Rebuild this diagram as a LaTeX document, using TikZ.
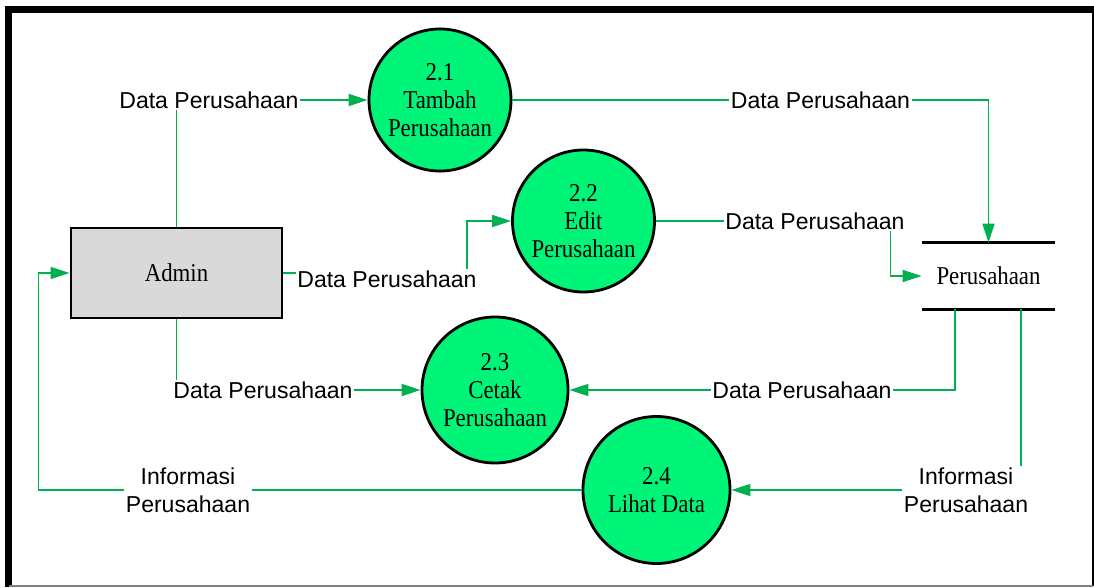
\documentclass[tikz,border=0pt]{standalone}
\usepackage{fontspec}
\setmainfont{Liberation Serif}[FakeStretch=0.89]
\newfontfamily\labelfont{Liberation Sans}
\usetikzlibrary{arrows.meta}
\definecolor{flowgreen}{RGB}{0,176,80}
\definecolor{procfill}{RGB}{0,245,120}
\definecolor{entgray}{RGB}{217,217,217}
\tikzset{
  process/.style={circle,draw,line width=1.6pt,fill=procfill,minimum size=2.84cm,inner sep=0pt,align=center,font=\fontsize{14.6}{15.9}\selectfont},
  entity/.style={rectangle,draw,line width=1.6pt,fill=entgray,minimum width=4.22cm,minimum height=1.8cm,font=\fontsize{14.6}{15.9}\selectfont},
  datastore/.style={minimum width=2.66cm,minimum height=1.32cm,inner sep=0pt,font=\fontsize{14.6}{15.9}\selectfont},
  flow/.style={draw=flowgreen,line width=0.85pt,-{Triangle[length=0.38cm,width=0.24cm]}},
  flowlabel/.style={fill=white,inner sep=1pt,align=center,font=\labelfont\fontsize{13.1}{15.9}\selectfont}
}
\begin{document}
\begin{tikzpicture}
       \useasboundingbox (0,0) rectangle (21.88,11.74);
       \draw[line width=4pt] (0.17,0) -- (0.17,11.55) -- (21.88,11.55);
       \draw[line width=1pt] (21.86,11.55) -- (21.86,0.02);
       \draw[gray,line width=0.8pt] (0.17,0.02) -- (21.86,0.02);

       \node[entity] (admin) at (3.53,6.28) {Admin};
       \node[process] (p21) at (8.8,9.74) {2.1\\Tambah\\Perusahaan};
       \node[process] (p22) at (11.67,7.32) {2.2\\Edit\\Perusahaan};
       \node[process,minimum size=2.92cm] (p23) at (9.9,3.94) {2.3\\Cetak\\Perusahaan};
       \node[process,minimum size=2.94cm] (p24) at (13.13,1.94) {2.4\\Lihat Data};

       \node[datastore] (store) at (19.77,6.22) {Perusahaan};
       \draw[line width=1.6pt] (store.north west) -- (store.north east);
       \draw[line width=1.6pt] (store.south west) -- (store.south east);

       \draw[flow] (admin.north) |- (p21.west);
       \draw[flow] (p21.east) -| (store.north);
       \draw[flow] (admin.east) -| ([xshift=-0.88cm]p22.west) -- (p22.west);
       \draw[flow] (p22.east) -| ([xshift=-0.62cm]store.west) -- (store.west);
       \draw[flow] ([xshift=-0.67cm]store.south) |- (p23.east);
       \draw[flow] (admin.south) |- (p23.west);
       \draw[flow] ([xshift=0.65cm]store.south) |- (p24.east);
       \draw[flow] (p24.west) -| ([xshift=-0.62cm]admin.west) -- (admin.west);

       \node[flowlabel] (l1) at (4.18,9.74) {Data Perusahaan};
       \node[flowlabel] (l2) at (16.41,9.74) {Data Perusahaan};
       \node[flowlabel] (l3) at (7.74,6.16) {Data Perusahaan};
       \node[flowlabel] (l4) at (16.3,7.32) {Data Perusahaan};
       \node[flowlabel] (l5) at (16.04,3.94) {Data Perusahaan};
       \node[flowlabel] (l6) at (5.26,3.94) {Data Perusahaan};
       \node[flowlabel] (l7) at (19.32,1.94) {Informasi\\Perusahaan};
       \node[flowlabel] (l8) at (3.76,1.94) {Informasi\\Perusahaan};
\end{tikzpicture}
\end{document}
